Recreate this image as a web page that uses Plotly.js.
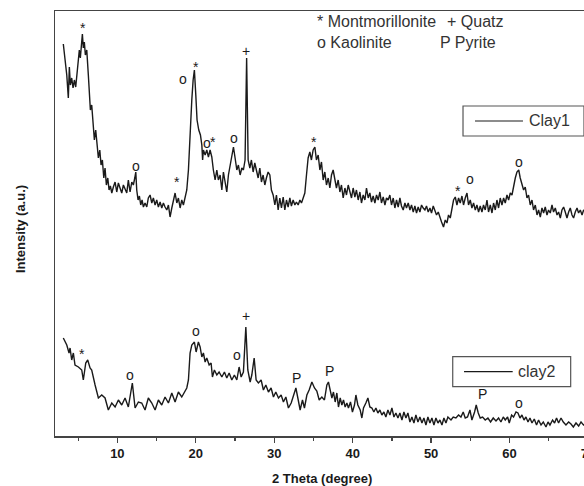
<!DOCTYPE html>
<html>
<head>
<meta charset="utf-8">
<script src="https://cdn.plot.ly/plotly-3.0.1.min.js"></script>
<style>
html, body { margin: 0; padding: 0; overflow: hidden; background: #fff; }
#chart { width: 600px; height: 486px; }
</style>
</head>
<body>
<div id="chart"></div>
<script>
// 2 Theta (degree) and intensity (a.u.)
const clay1Theta = [3.11,3.27,3.55,3.75,3.88,4.01,4.18,4.35,4.52,4.69,4.86,5.03,5.15,5.28,5.41,5.54,5.66,5.79,5.92,6.10,6.30,6.43,6.56,6.73,6.90,7.07,7.24,7.41,7.58,7.76,7.92,8.09,8.27,8.43,8.60,8.78,8.94,9.11,9.29,9.49,9.71,9.92,10.13,10.34,10.56,10.77,10.98,11.20,11.40,11.62,11.84,12.04,12.22,12.35,12.47,12.64,12.81,12.98,13.15,13.32,13.53,13.75,13.95,14.17,14.39,14.59,14.81,15.02,15.23,15.45,15.66,15.87,16.08,16.30,16.51,16.72,16.94,17.14,17.36,17.58,17.78,18.00,18.21,18.42,18.64,18.85,19.06,19.27,19.49,19.66,19.82,20.00,20.16,20.38,20.59,20.77,20.87,20.97,21.19,21.40,21.61,21.82,22.04,22.24,22.46,22.68,22.88,23.10,23.32,23.52,23.74,23.95,24.16,24.38,24.59,24.80,25.01,25.23,25.43,25.65,25.87,26.07,26.28,26.48,26.67,26.89,27.09,27.31,27.52,27.73,27.95,28.16,28.37,28.58,28.80,29.00,29.22,29.44,29.64,29.86,30.08,30.28,30.50,30.71,30.92,31.14,31.35,31.56,31.77,31.99,32.19,32.41,32.63,32.83,33.05,33.27,33.47,33.69,33.90,34.11,34.32,34.54,34.74,34.96,35.18,35.38,35.60,35.82,36.02,36.24,36.45,36.66,36.88,37.09,37.30,37.51,37.73,37.93,38.15,38.37,38.57,38.79,39.01,39.21,39.43,39.64,39.85,40.06,40.28,40.48,40.70,40.92,41.12,41.34,41.56,41.76,41.98,42.19,42.40,42.61,42.83,43.04,43.25,43.47,43.67,43.89,44.11,44.31,44.52,44.74,44.95,45.17,45.38,45.59,45.80,46.02,46.22,46.44,46.66,46.86,47.08,47.30,47.50,47.72,47.93,48.14,48.35,48.57,48.78,48.99,49.21,49.41,49.63,49.85,50.05,50.27,50.48,50.69,50.91,51.12,51.33,51.58,51.80,52.02,52.22,52.44,52.65,52.86,53.08,53.29,53.50,53.71,53.93,54.13,54.35,54.57,54.77,54.99,55.20,55.41,55.63,55.84,56.05,56.26,56.48,56.68,56.90,57.12,57.32,57.54,57.76,57.96,58.18,58.39,58.60,58.81,59.03,59.24,59.45,59.67,59.88,60.09,60.31,60.51,60.73,60.94,61.17,61.36,61.58,61.79,62.00,62.22,62.42,62.64,62.86,63.06,63.28,63.50,63.70,63.92,64.13,64.34,64.55,64.77,64.97,65.19,65.41,65.61,65.83,66.05,66.25,66.47,66.68,66.89,67.10,67.32,67.53,67.74,67.96,68.16,68.38,68.60,68.80,69.02,69.24,69.44,69.65,69.87];
const clay1Intensity = [392,381,361,338,369,351,358,348,356,349,366,376,386,378,391,402,388,394,381,386,361,341,326,331,311,296,306,288,278,286,271,276,258,268,251,258,246,250,243,249,254,244,253,248,243,251,246,243,256,244,254,251,258,264,246,236,240,231,236,229,233,229,238,241,233,238,231,236,229,234,228,233,229,226,231,219,228,236,243,233,238,228,236,231,238,246,266,306,336,356,366,341,316,306,301,291,276,286,281,286,279,286,279,266,256,266,256,261,246,264,251,244,261,271,281,289,278,266,271,261,268,266,276,378,276,268,276,264,273,266,258,268,254,261,251,258,264,261,246,241,231,241,226,238,228,239,226,236,229,238,230,236,231,234,231,236,233,238,243,261,278,284,276,286,289,276,281,266,274,256,264,251,258,248,261,266,258,248,256,244,251,238,248,241,251,243,238,248,239,246,236,244,233,241,236,248,238,243,234,240,233,241,236,244,233,239,231,238,236,241,231,238,228,236,229,238,230,226,233,228,233,226,231,224,230,223,229,224,231,228,226,230,224,228,223,230,226,221,224,218,214,209,216,213,221,218,226,236,239,231,238,233,240,231,238,243,231,236,228,233,226,231,224,230,224,231,226,236,224,231,223,233,226,236,228,238,231,238,233,241,236,243,241,251,258,264,266,258,251,246,249,238,241,231,236,226,231,221,226,219,228,223,229,221,226,223,231,224,228,221,224,218,226,229,224,218,224,228,221,218,224,228,223,226,221,226,224,222];

const clay2Theta = [3.11,3.55,3.84,3.97,4.18,4.39,4.60,5.03,5.46,5.66,5.97,6.22,6.52,6.73,7.16,7.58,8.01,8.43,8.85,9.29,9.71,10.13,10.56,10.98,11.40,11.91,12.26,12.68,13.11,13.53,13.95,14.39,14.81,15.23,15.66,16.08,16.51,16.94,17.36,17.78,18.21,18.64,18.85,19.06,19.27,19.49,19.82,20.04,20.33,20.55,20.77,20.97,21.19,21.40,21.70,21.95,22.12,22.37,22.68,22.97,23.32,23.65,23.95,24.25,24.59,24.92,25.23,25.52,25.78,26.07,26.38,26.63,26.93,27.14,27.44,27.69,27.98,28.33,28.62,28.93,29.26,29.60,29.90,30.20,30.54,30.88,31.17,31.48,31.81,32.16,32.45,32.76,33.01,33.30,33.60,33.85,34.16,34.45,34.80,35.13,35.43,35.73,36.07,36.40,36.71,36.91,37.13,37.35,37.55,37.77,37.98,38.19,38.41,38.62,38.83,39.04,39.26,39.46,39.72,39.97,40.23,40.41,40.66,40.96,41.17,41.38,41.68,41.94,42.19,42.45,42.70,42.96,43.21,43.47,43.72,43.98,44.23,44.49,44.75,45.00,45.26,45.51,45.77,46.02,46.28,46.53,46.79,47.04,47.30,47.55,47.81,48.06,48.32,48.57,48.83,49.08,49.34,49.59,49.85,50.10,50.36,50.61,50.87,51.12,51.38,51.63,51.89,52.14,52.53,52.82,53.16,53.50,53.80,54.09,54.35,54.64,54.95,55.20,55.54,55.75,56.01,56.26,56.56,56.90,57.24,57.58,57.92,58.27,58.60,58.90,59.20,59.45,59.75,59.96,60.26,60.51,60.82,61.07,61.33,61.58,61.84,62.09,62.35,62.60,62.86,63.15,63.44,63.70,64.01,64.30,64.64,64.90,65.15,65.48,65.74,65.99,66.25,66.56,66.85,67.19,67.53,67.83,68.13,68.47,68.81,69.11,69.44,69.80];
const clay2Intensity = [98,91,83,88,76,83,71,69,66,56,73,76,68,66,51,38,41,38,26,33,29,36,31,38,29,53,28,34,33,26,38,33,26,36,31,39,33,43,34,44,39,46,48,56,83,91,94,84,94,89,79,83,74,78,71,73,59,66,61,64,59,64,58,63,56,61,56,69,59,64,109,66,54,61,78,56,53,56,46,51,44,48,39,44,38,41,34,39,28,33,41,48,38,26,36,28,41,46,54,48,45,36,39,36,51,54,46,38,44,34,43,29,38,31,36,29,33,28,34,24,31,41,31,26,18,28,33,38,29,28,24,28,23,26,21,24,19,26,21,28,19,23,18,23,16,24,18,23,14,19,13,21,14,19,13,18,11,19,13,18,11,18,13,16,11,18,13,19,16,19,18,21,19,24,18,19,26,16,24,31,23,18,19,16,18,14,18,15,18,14,19,16,19,13,21,19,24,23,18,21,16,19,14,18,13,17,11,16,11,14,9,14,11,16,13,18,13,18,14,11,14,12,9,13,10,14,11,13];

// phase marks: symbol, 2 Theta, height
const marks1Text = ['*','o','*','+','o','*','o','o','*','*','*','o','o'];
const marks1Theta = [5.62,18.38,20.00,26.40,21.48,22.24,24.88,12.38,17.57,35.13,53.37,54.90,61.15];
const marks1Height = [412,356,373,385,292,298,297,269,258,298,249,256,273];
const marks2Text = ['*','o','o','o','+','P','P','P','o'];
const marks2Theta = [5.53,11.62,20.04,25.23,26.38,32.88,37.04,56.55,61.15];
const marks2Height = [86,60,104,80,120,58,65,42,32];

const seriesNames = ['Clay1','clay2'];
const xTicks = [10,20,30,40,50,60,70];
const xMinorTicks = [5,15,25,35,45,55,65];

const FONT = 'Liberation Sans, Arial, Helvetica, sans-serif';
const INK = '#1a1a1a';

const traces = [
  {x: clay1Theta, y: clay1Intensity, name: seriesNames[0], type: 'scatter', mode: 'lines',
   line: {color: INK, width: 1.4}, showlegend: false},
  {x: clay2Theta, y: clay2Intensity, name: seriesNames[1], type: 'scatter', mode: 'lines',
   line: {color: INK, width: 1.4}, showlegend: false}
];

const shiftFor = s => (s === '*' ? -4 : (s === 'o' ? 1 : 0));
const annotations = [];
function addMarks(texts, xs, ys) {
  texts.forEach((t, i) => annotations.push({
    x: xs[i], y: ys[i], xref: 'x', yref: 'y', text: t, showarrow: false,
    xanchor: 'center', yanchor: 'middle', yshift: shiftFor(t),
    font: {family: FONT, size: 14, color: INK}
  }));
}
addMarks(marks1Text, marks1Theta, marks1Height);
addMarks(marks2Text, marks2Theta, marks2Height);

// phase key (top)
[['* Montmorillonite', 0.4878, 0.9748], ['+ Quatz', 0.7317, 0.9748],
 ['o Kaolinite', 0.4878, 0.9254], ['P Pyrite', 0.7191, 0.9254]].forEach(k => annotations.push({
  x: k[1], y: k[2], xref: 'paper', yref: 'paper', text: k[0], showarrow: false,
  xanchor: 'left', yanchor: 'middle', font: {family: FONT, size: 16, color: '#333'}
}));
// series legend labels
annotations.push({x: 0.8856, y: 0.7412, xref: 'paper', yref: 'paper', text: seriesNames[0],
  showarrow: false, xanchor: 'left', yanchor: 'middle', font: {family: FONT, size: 16, color: '#333'}});
annotations.push({x: 0.8649, y: 0.1513, xref: 'paper', yref: 'paper', text: seriesNames[1],
  showarrow: false, xanchor: 'left', yanchor: 'middle', font: {family: FONT, size: 16, color: '#333'}});
// axis titles
annotations.push({x: 0.5, y: -0.1, xref: 'paper', yref: 'paper', text: '2 Theta (degree)',
  showarrow: false, xanchor: 'center', yanchor: 'middle',
  font: {family: FONT, size: 13, color: INK, weight: 'bold'}});
annotations.push({x: -0.0657, y: 0.487, xref: 'paper', yref: 'paper', text: 'Intensity (a.u.)',
  textangle: -90, showarrow: false, xanchor: 'center', yanchor: 'middle',
  font: {family: FONT, size: 13, color: INK, weight: 'bold'}});

const shapes = [
  {type: 'rect', xref: 'paper', yref: 'paper', x0: 0.7655, x1: 0.9925, y0: 0.7059, y1: 0.7765,
   line: {color: '#555', width: 1.2}, fillcolor: 'rgba(0,0,0,0)'},
  {type: 'line', xref: 'paper', yref: 'paper', x0: 0.788, x1: 0.878, y0: 0.7412, y1: 0.7412,
   line: {color: INK, width: 1.2}},
  {type: 'rect', xref: 'paper', yref: 'paper', x0: 0.7462, x1: 0.9675, y0: 0.116, y1: 0.1866,
   line: {color: '#555', width: 1.2}, fillcolor: 'rgba(0,0,0,0)'},
  {type: 'line', xref: 'paper', yref: 'paper', x0: 0.7674, x1: 0.8587, y0: 0.1513, y1: 0.1513,
   line: {color: INK, width: 1.2}}
];

const layout = {
  width: 600, height: 486,
  margin: {l: 55, r: 12, t: 11, b: 50},
  paper_bgcolor: '#fff', plot_bgcolor: '#fff',
  showlegend: false,
  xaxis: {
    range: [2.05, 70], tickmode: 'array', tickvals: xTicks, ticktext: xTicks.map(String),
    ticks: 'outside', ticklen: 5, tickwidth: 1.3, tickcolor: '#444',
    showline: true, linecolor: '#444', linewidth: 1.5, mirror: true,
    showgrid: false, zeroline: false,
    tickfont: {family: FONT, size: 13, color: INK, weight: 'bold'},
    minor: {tickmode: 'array', tickvals: xMinorTicks, ticks: 'outside', ticklen: 3, tickwidth: 1.2, tickcolor: '#444', showgrid: false}
  },
  yaxis: {
    range: [0, 425], showticklabels: false, ticks: '',
    showline: true, linecolor: '#444', linewidth: 1.5, mirror: true,
    showgrid: false, zeroline: false
  },
  annotations: annotations,
  shapes: shapes
};

Plotly.newPlot('chart', traces, layout, {staticPlot: true, displayModeBar: false});
</script>
</body>
</html>
